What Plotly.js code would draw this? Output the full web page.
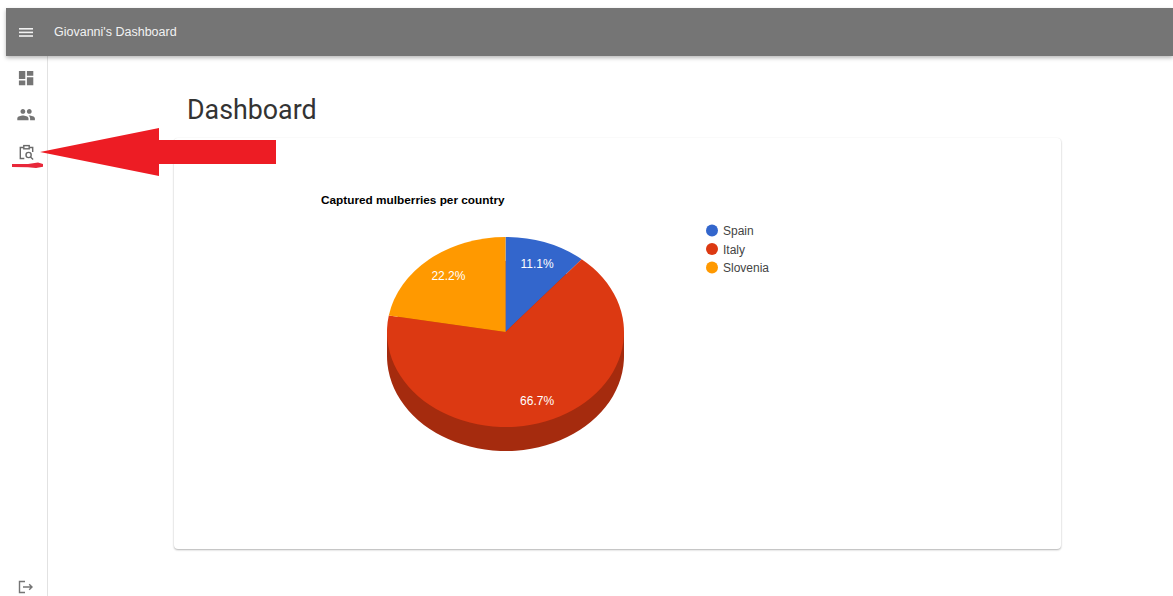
<!DOCTYPE html>
<html>
<head>
<meta charset="utf-8">
<title>Giovanni's Dashboard</title>
<script src="https://cdn.plot.ly/plotly-3.0.1.min.js"></script>
<style>
  html, body { margin: 0; padding: 0; background: #fff; overflow: hidden; }
  body { position: relative; width: 1173px; height: 596px; font-family: "Liberation Sans", Arial, sans-serif; }
  #appbar { position: absolute; left: 6px; top: 8px; width: 1167px; height: 48px; background: #757575;
            box-shadow: 0 2px 4px rgba(0,0,0,.28); z-index: 3; }
  #appname { position: absolute; left: 48px; top: 16px; font-size: 12.5px; line-height: 16px; color: #f2f2f2; }
  #rail { position: absolute; left: 47px; top: 56px; width: 1px; height: 540px; background: #e2e2e2; }
  #heading { position: absolute; left: 187px; top: 92px; font-family: Roboto, sans-serif; font-size: 26.8px; line-height: 36px; color: #333; }
  #card { position: absolute; left: 174px; top: 138px; width: 887px; height: 411px; background: #fff; border-radius: 4px;
          box-shadow: 0 1px 2px rgba(0,0,0,.3), 0 0 1px rgba(0,0,0,.05); }
  #chart { position: absolute; left: 0; top: 0; width: 1173px; height: 596px; z-index: 2; }
  #chrome { position: absolute; left: 0; top: 0; z-index: 4; pointer-events: none; }
</style>
</head>
<body>
<div id="rail"></div>
<div id="heading">Dashboard</div>
<div id="card"></div>
<div id="chart"></div>
<div id="appbar"><div id="appname">Giovanni's Dashboard</div></div>
<svg id="chrome" width="1173" height="596">
  <!-- menu button -->
  <g fill="#f2f2f2"><rect x="19" y="28" width="14" height="1.6"/><rect x="19" y="31.6" width="14" height="1.6"/><rect x="19" y="35.2" width="14" height="1.6"/></g>
  <!-- navigation icons -->
  <g fill="#757575">
    <path transform="translate(16.5,68.5) scale(0.8)" d="M3 13h8V3H3v10zm0 8h8v-6H3v6zm10 0h8V11h-8v10zm0-18v6h8V3h-8z"/>
    <path transform="translate(16.5,105) scale(0.8)" d="M16 11c1.66 0 2.99-1.34 2.99-3S17.66 5 16 5c-1.66 0-3 1.34-3 3s1.34 3 3 3zm-8 0c1.66 0 2.99-1.34 2.99-3S9.66 5 8 5C6.34 5 5 6.34 5 8s1.34 3 3 3zm0 2c-2.33 0-7 1.17-7 3.5V19h14v-2.5c0-2.33-4.67-3.5-7-3.5zm8 0c-.29 0-.62.02-.97.05 1.16.84 1.97 1.97 1.97 3.45V19h6v-2.5c0-2.33-4.67-3.5-7-3.5z"/>
  </g>
  <g fill="none" stroke="#6a6a6a" stroke-width="1.4">
    <path d="M23.5 147.5h-3.2v11h4"/>
    <path d="M29.5 147.5h3.2v4.5"/>
    <rect x="23.8" y="145.6" width="5.4" height="3.2"/>
    <circle cx="28.6" cy="155" r="2.6"/>
    <path d="M30.5 157l2.6 2.6"/>
    <path d="M25 581.5h-5.5v11h5.5" stroke="#757575"/>
    <path d="M23 587h9M29.2 584.2l2.8 2.8-2.8 2.8" stroke="#757575"/>
  </g>
  <!-- pointer and underline -->
  <polygon points="40,152 159,128 159,140 276,140 276,164 159,164 159,176" fill="#ed1c24"/>
  <path d="M12 164 L28 164 L38 162.5 L43 164 L43 166.8 L36 168 L28 167.2 L12 167 Z" fill="#e8283a"/>
</svg>
<script>
// Captured mulberries per country
const countries = ["Spain", "Italy", "Slovenia"];
const captured = [1, 6, 2];
const sliceColors = ["#3366cc", "#dc3912", "#ff9900"];
const rimColor = "#a52b0e";

const W = 1173, H = 596;
// Tilted disc: centre, horizontal radius, squash factor and rim depth, in page pixels.
const cx = 505.5, cy = 332, R = 118.5, squash = 95 / 118.5, depth = 24;
const legendRowStep = 18.5;

function pieDomain(centreY) {
  return {
    x: [(cx - R) / W, (cx + R) / W],
    y: [1 - (centreY + R) / H, 1 - (centreY - R) / H]
  };
}

const rim = {
  type: "pie", labels: countries, values: captured, sort: false, direction: "clockwise", rotation: 0,
  domain: pieDomain(cy + depth), marker: { colors: sliceColors.map(() => rimColor), line: { width: 0 } },
  textinfo: "none", hoverinfo: "skip", showlegend: false
};
const top_ = {
  type: "pie", labels: countries, values: captured, sort: false, direction: "clockwise", rotation: 0,
  domain: pieDomain(cy), marker: { colors: sliceColors, line: { width: 0 } },
  texttemplate: "%{percent:.1%}", textposition: "inside", insidetextorientation: "horizontal",
  insidetextfont: { family: "Liberation Sans", size: 12, color: "#ffffff" },
  hoverinfo: "label+percent", showlegend: true
};

const layout = {
  width: W, height: H, margin: { l: 0, r: 0, t: 0, b: 0 },
  paper_bgcolor: "rgba(0,0,0,0)", plot_bgcolor: "rgba(0,0,0,0)",
  font: { family: "Liberation Sans", size: 12, color: "#444" },
  title: {
    text: "<b>Captured mulberries per country</b>",
    font: { family: "Liberation Sans", size: 11.8, color: "#000" },
    x: 321 / W, xanchor: "left", xref: "paper", y: 1 - 200 / H, yanchor: "middle", yref: "paper"
  },
  legend: {
    x: 692 / W, xanchor: "left", y: 1 - 216 / H, yanchor: "top",
    bgcolor: "rgba(0,0,0,0)", font: { family: "Liberation Sans", size: 12, color: "#444" }, itemclick: false, itemdoubleclick: false
  },
  // Wall between the two discs, hidden under the top disc except at its edges
  shapes: [{
    type: "rect", xref: "paper", yref: "paper", layer: "below", line: { width: 0 }, fillcolor: rimColor,
    x0: (cx - R) / W, x1: (cx + R) / W, y0: 1 - (cy + depth) / H, y1: 1 - cy / H
  }]
};

Plotly.newPlot("chart", [rim, top_], layout, { displayModeBar: false }).then(gd => {
  // Plotly pies are always circular: flatten each disc about its own centre.
  gd.querySelectorAll(".pielayer .trace").forEach((tr, i) => {
    const c = i === 0 ? cy + depth : cy;
    tr.querySelectorAll("path.surface").forEach(p => {
      p.setAttribute("transform", `translate(0,${c}) scale(1,${squash}) translate(0,${-c})`);
    });
  });

  // Seat each percentage at the middle of its slice on the flattened disc.
  const total = captured.reduce((a, b) => a + b, 0);
  let run = 0;
  const labels = gd.querySelectorAll(".pielayer .trace:last-child g.slicetext");
  captured.forEach((v, i) => {
    const mid = (run + v / 2) / total * 2 * Math.PI;
    run += v;
    const t = labels[i];
    if (!t) return;
    const tx = t.querySelector("text");
    tx.setAttribute("transform", "");
    const bb = tx.getBBox();
    const px = cx + 0.76 * R * Math.sin(mid) + 1;
    const py = cy - 0.77 * R * Math.cos(mid) * squash + 0.5;
    tx.setAttribute("transform", `translate(${px - bb.x - bb.width / 2},${py - bb.y - bb.height / 2})`);
  });

  // Round legend markers, labels close to them, tight row spacing.
  gd.querySelectorAll(".legendpoints path").forEach(p => {
    p.setAttribute("d", "M6,0A6,6 0 1,1 -6,0A6,6 0 1,1 6,0Z");
    p.style.strokeWidth = 0;
  });
  gd.querySelectorAll(".legend .legendtext").forEach(t => {
    t.setAttribute("x", parseFloat(t.getAttribute("x")) - 9);
  });
  const rows = gd.querySelectorAll(".legend .traces");
  if (rows.length) {
    const firstY = parseFloat(rows[0].getAttribute("transform").split(",")[1]);
    rows.forEach((row, i) => row.setAttribute("transform", `translate(0,${firstY + i * legendRowStep})`));
  }
});
</script>
</body>
</html>
